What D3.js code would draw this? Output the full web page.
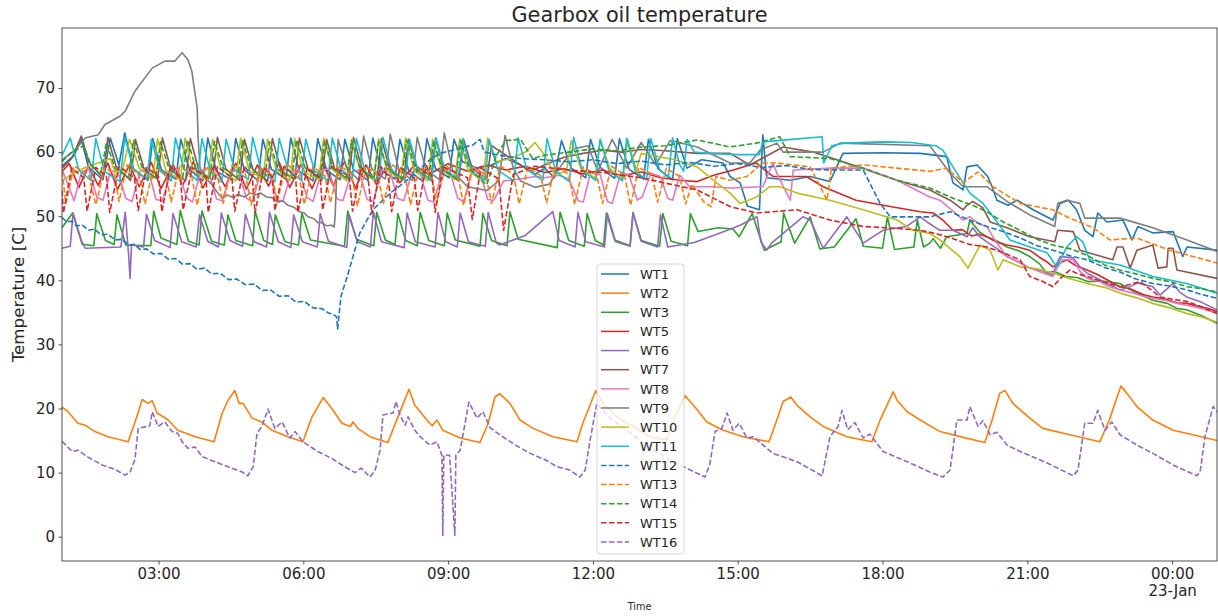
<!DOCTYPE html>
<html>
<head>
<meta charset="utf-8">
<script src="https://cdn.jsdelivr.net/npm/d3@7"></script>
<style>
  body { margin: 0; background: #fff; }
  svg { display: block; }
  text { font-family: "DejaVu Sans", sans-serif; fill: #262626; }
</style>
</head>
<body>
<svg id="chart" width="1218" height="616"></svg>
<script>
// Gearbox oil temperature of the wind turbines, one reading list per turbine.
// Each reading is [hours after 00:00 on 22 Jan, temperature in C]; hours above 24 fall on 23 Jan.

const turbineNames = ["WT1","WT2","WT3","WT5","WT6","WT7","WT8","WT9","WT10","WT11","WT12","WT13","WT14","WT15","WT16"];

const wt1 = [[1.00,57.8],[1.25,59.5],[1.40,62.0],[1.55,57.6],[1.85,55.7],[2.00,62.2],[2.18,58.0],[2.30,63.0],[2.48,57.4],[2.78,55.6],[2.88,62.1],[3.06,57.2],[3.36,55.8],[3.46,62.0],[3.64,57.3],[3.92,55.5],[4.02,62.2],[4.20,57.0],[4.50,55.7],[4.60,62.1],[4.78,57.2],[5.06,55.6],[5.16,62.0],[5.34,57.3],[5.64,55.8],[5.74,62.2],[5.92,57.0],[6.20,55.5],[6.30,62.1],[6.48,57.2],[6.76,55.7],[6.86,62.0],[7.04,57.3],[7.34,55.6],[7.44,62.2],[7.62,57.1],[7.90,55.8],[8.00,62.0],[8.18,57.2],[8.46,55.5],[8.56,62.1],[8.74,57.4],[9.02,56.0],[9.12,62.0],[9.30,58.5],[9.60,57.5],[9.90,58.0],[10.20,59.0],[10.50,58.0],[10.80,56.5],[11.00,57.5],[11.20,56.0],[11.35,61.8],[11.55,57.5],[11.85,56.0],[11.95,62.0],[12.15,57.6],[12.45,55.9],[12.55,62.1],[12.75,57.3],[13.05,55.8],[13.15,62.0],[13.35,57.4],[13.65,55.7],[13.75,62.1],[13.95,57.5],[14.25,58.8],[14.70,58.3],[14.84,56.2],[15.05,55.2],[15.20,51.6],[15.45,51.0],[15.52,62.7],[15.60,56.0],[16.09,55.6],[16.50,56.2],[16.91,55.4],[17.18,59.8],[18.00,59.9],[18.78,59.8],[19.33,59.3],[19.46,55.2],[19.67,54.1],[19.75,57.7],[19.96,58.0],[20.18,56.2],[20.27,54.6],[20.37,52.5],[20.60,51.7],[20.79,52.5],[21.12,51.0],[21.53,49.4],[21.68,52.0],[21.85,52.5],[22.02,51.0],[22.19,47.8],[22.36,46.8],[22.46,50.5],[22.65,49.1],[22.98,49.4],[23.17,46.3],[23.29,48.4],[23.60,47.4],[24.02,47.6],[24.22,43.7],[24.31,45.2],[24.93,44.7]];

const wt2 = [[1.00,20.2],[1.125,19.5],[1.33,17.7],[1.48,17.4],[1.68,16.4],[1.95,15.6],[2.37,14.8],[2.55,18.7],[2.66,21.4],[2.78,20.8],[2.87,21.2],[2.97,19.3],[3.20,18.2],[3.40,16.6],[3.76,15.6],[4.15,14.8],[4.32,19.3],[4.44,21.3],[4.58,22.8],[4.67,20.8],[4.75,20.8],[4.94,18.5],[5.14,17.9],[5.35,16.6],[5.68,15.6],[5.99,14.8],[6.18,18.7],[6.41,21.7],[6.59,20.0],[6.80,17.7],[6.97,17.2],[7.03,17.9],[7.13,16.9],[7.38,15.6],[7.75,14.7],[7.96,18.7],[8.19,23.0],[8.31,20.5],[8.56,18.2],[8.67,17.3],[8.77,18.2],[8.89,16.6],[9.25,15.4],[9.66,14.7],[9.83,17.7],[9.97,21.8],[10.07,22.3],[10.28,20.8],[10.49,18.2],[10.76,16.9],[11.17,15.6],[11.67,14.8],[11.79,17.7],[12.06,22.8],[12.21,20.8],[12.50,18.7],[12.83,17.2],[13.18,15.6],[13.53,15.1],[13.70,18.7],[13.91,22.0],[14.16,19.8],[14.36,17.9],[14.70,16.6],[15.11,15.6],[15.65,14.8],[15.81,18.2],[15.94,21.1],[16.10,21.8],[16.23,20.5],[16.50,18.7],[16.77,17.2],[17.26,15.6],[17.78,14.8],[17.95,18.2],[18.22,22.6],[18.30,21.3],[18.51,19.5],[18.78,18.2],[19.19,16.4],[19.67,15.5],[20.12,14.7],[20.27,18.2],[20.43,22.4],[20.54,22.8],[20.70,20.8],[21.05,18.5],[21.32,16.9],[21.88,15.9],[22.50,14.8],[22.70,18.2],[22.86,21.8],[22.94,23.5],[23.06,22.4],[23.27,20.3],[23.60,18.2],[24.02,16.6],[24.43,15.9],[24.93,15.0]];

const wt3 = [[1.00,48.2],[1.22,50.5],[1.42,45.6],[1.66,45.4],[1.72,50.4],[1.90,46.2],[2.08,45.6],[2.14,50.2],[2.32,45.5],[2.84,45.4],[2.90,50.8],[3.05,46.6],[3.38,45.6],[3.45,50.9],[3.62,46.1],[3.84,45.5],[3.90,50.8],[4.10,46.1],[4.36,45.5],[4.44,50.2],[4.60,46.2],[4.95,45.4],[5.00,50.8],[5.18,46.2],[5.36,45.6],[5.42,50.2],[5.62,46.0],[5.90,45.5],[5.97,50.5],[6.15,46.3],[6.85,45.3],[6.92,50.8],[7.10,46.4],[7.46,45.4],[7.52,50.6],[7.70,46.3],[7.90,45.6],[7.96,50.4],[8.12,46.2],[8.36,45.4],[8.42,50.6],[8.60,46.2],[8.92,45.4],[8.98,50.5],[9.15,46.3],[9.66,45.3],[9.72,50.4],[9.90,46.2],[10.22,45.4],[10.28,50.7],[10.45,46.4],[11.26,45.1],[11.32,50.6],[11.50,46.2],[11.82,45.3],[11.88,50.4],[12.05,46.2],[12.22,45.5],[12.28,50.5],[12.45,46.3],[12.77,45.4],[12.83,50.6],[13.00,46.2],[13.38,45.3],[13.45,50.4],[13.62,46.1],[13.96,45.4],[14.02,50.4],[14.18,47.6],[14.60,48.2],[14.90,48.0],[15.03,46.8],[15.30,50.4],[15.55,44.7],[15.90,46.0],[15.95,50.5],[16.18,45.8],[16.50,49.9],[16.70,44.9],[17.00,45.2],[17.45,49.6],[17.60,45.3],[18.00,45.0],[18.10,49.9],[18.25,44.8],[18.65,45.2],[18.72,49.4],[18.85,45.2],[18.98,45.8],[19.05,46.5],[19.20,45.0],[19.33,46.8],[19.75,47.3],[19.81,49.4],[20.00,47.6],[20.16,46.8],[20.38,46.1],[20.58,45.2],[20.82,44.6],[21.05,43.7],[21.25,42.6],[21.40,41.1],[21.55,41.4],[21.80,40.6],[22.05,40.4],[22.25,39.8],[22.55,39.9],[22.92,39.5],[23.20,38.3],[23.40,37.6],[23.60,36.9],[23.90,36.4],[24.10,35.6],[24.30,35.4],[24.60,34.5],[24.93,33.3]];

const wt5 = [[1.00,57.0],[1.15,58.2],[1.35,54.5],[1.55,57.8],[1.75,54.8],[1.95,58.3],[2.15,54.2],[2.40,58.0],[2.60,54.6],[2.85,58.4],[3.05,54.3],[3.30,58.1],[3.50,54.8],[3.72,58.5],[3.92,54.4],[4.15,57.9],[4.38,54.6],[4.60,58.3],[4.82,54.2],[5.05,58.0],[5.28,54.7],[5.50,58.4],[5.72,54.5],[5.95,58.1],[6.18,54.3],[6.40,58.2],[6.62,54.8],[6.85,58.5],[7.08,54.4],[7.30,58.0],[7.52,54.9],[7.75,58.3],[8.00,55.2],[8.30,58.0],[8.60,56.5],[9.00,58.2],[9.40,57.0],[9.80,58.0],[10.20,57.2],[10.60,57.8],[11.00,56.8],[11.40,57.4],[11.80,56.6],[12.20,57.2],[12.60,56.3],[13.00,56.9],[13.40,56.0],[13.80,55.6],[14.16,55.4],[14.50,56.4],[14.91,57.2],[15.38,58.3],[15.73,56.2],[16.42,56.2],[16.77,54.6],[17.45,52.5],[18.16,51.5],[18.78,50.7],[19.05,50.5],[19.25,49.4],[19.46,47.8],[19.65,47.9],[19.85,46.9],[20.00,47.2],[20.16,46.8],[20.35,46.0],[20.58,45.5],[20.80,45.2],[21.05,44.7],[21.25,43.6],[21.40,42.9],[21.53,42.1],[21.65,42.6],[21.82,43.2],[22.00,42.3],[22.24,41.6],[22.45,40.9],[22.70,39.9],[22.92,39.0],[23.15,38.6],[23.40,37.8],[23.60,37.4],[23.85,37.1],[24.10,36.5],[24.31,36.4],[24.55,35.9],[24.75,35.6],[24.93,35.1]];

const wt6 = [[1.00,45.0],[1.17,45.3],[1.23,50.5],[1.40,46.2],[1.48,45.0],[2.22,45.2],[2.31,50.6],[2.38,44.0],[2.41,40.3],[2.44,45.5],[2.69,45.2],[2.75,50.3],[2.92,46.2],[3.24,45.1],[3.30,50.4],[3.48,46.0],[3.78,45.2],[3.85,50.2],[4.02,46.1],[4.24,45.2],[4.30,50.5],[4.48,46.2],[4.74,45.3],[4.80,50.3],[4.98,46.0],[5.24,45.2],[5.30,50.6],[5.48,46.0],[5.74,45.1],[5.80,50.2],[5.98,46.0],[6.29,45.2],[6.35,50.4],[6.52,46.1],[6.90,45.1],[6.95,50.2],[7.12,46.0],[7.39,45.2],[7.45,50.7],[7.62,46.0],[8.09,45.1],[8.15,50.5],[8.32,46.0],[8.73,45.2],[8.79,50.6],[8.95,46.0],[9.19,45.2],[9.25,50.5],[9.42,46.0],[9.77,45.3],[9.83,50.6],[10.00,45.8],[10.07,45.5],[10.60,47.0],[11.17,50.7],[11.30,46.2],[11.63,45.2],[11.69,50.6],[11.85,46.0],[12.24,45.2],[12.30,50.4],[12.47,46.0],[12.77,45.3],[12.83,50.5],[13.00,46.1],[13.34,45.2],[13.40,50.2],[13.55,45.2],[14.10,45.9],[14.65,47.4],[15.05,48.6],[15.26,49.4],[15.40,49.9],[15.48,46.0],[15.60,44.7],[15.70,45.8],[16.35,49.9],[16.50,49.4],[16.77,45.0],[17.26,49.9],[17.60,45.8],[18.01,47.8],[18.50,48.4],[18.78,49.9],[18.92,49.1],[19.19,47.8],[19.46,47.8],[19.75,46.8],[19.87,48.2],[20.00,46.9],[20.16,46.0],[20.38,44.9],[20.58,43.7],[20.82,42.9],[21.05,41.9],[21.30,41.5],[21.53,40.8],[21.60,42.4],[21.68,43.7],[21.95,43.5],[22.10,42.0],[22.24,41.1],[22.55,39.9],[22.92,38.5],[23.10,38.9],[23.29,39.6],[23.60,39.0],[23.75,37.7],[24.02,39.5],[24.15,38.2],[24.30,37.4],[24.60,36.6],[24.93,35.4]];

const wt7 = [[1.00,57.5],[1.20,59.0],[1.40,62.5],[1.55,58.5],[1.85,56.0],[1.95,62.3],[2.12,57.8],[2.42,55.6],[2.52,62.0],[2.70,57.4],[2.98,55.8],[3.08,62.2],[3.26,57.2],[3.56,55.5],[3.66,62.1],[3.84,57.0],[4.12,55.7],[4.22,62.3],[4.40,57.3],[4.68,55.6],[4.78,62.0],[4.96,57.2],[5.26,55.5],[5.36,62.1],[5.54,57.0],[5.82,55.8],[5.92,62.2],[6.10,57.3],[6.38,55.6],[6.48,62.0],[6.66,57.1],[6.94,55.7],[7.04,62.3],[7.22,57.2],[7.52,55.5],[7.62,62.1],[7.80,57.0],[8.08,55.8],[8.18,62.0],[8.36,57.3],[8.64,55.6],[8.74,62.2],[8.92,57.1],[9.22,55.5],[9.32,62.0],[9.50,57.4],[9.80,55.8],[9.90,61.0],[10.30,59.0],[10.70,57.0],[11.00,58.0],[11.40,59.2],[11.80,59.8],[12.20,60.3],[12.60,60.0],[13.00,60.4],[13.50,60.2],[14.16,59.8],[14.84,59.8],[15.25,58.0],[15.50,59.0],[15.94,60.8],[16.56,60.0],[17.26,58.3],[18.30,55.6],[18.98,54.1],[19.40,52.5],[19.67,51.0],[19.75,51.7],[19.87,52.3],[20.08,51.3],[20.23,49.1],[20.58,48.2],[21.05,46.8],[21.57,46.0],[21.63,47.8],[21.95,47.6],[22.09,44.7],[22.77,43.2],[22.86,45.2],[22.98,45.2],[23.13,41.9],[23.27,44.7],[23.60,45.5],[23.71,41.9],[23.89,42.1],[23.92,45.0],[24.02,45.0],[24.10,41.6],[24.93,40.3]];

const wt8 = [[1.00,57.3],[1.12,55.0],[1.25,52.4],[1.40,56.8],[1.55,57.5],[1.72,53.0],[1.85,52.5],[2.00,56.9],[2.15,57.2],[2.32,52.8],[2.45,52.3],[2.62,57.0],[2.78,57.4],[2.95,52.6],[3.08,52.4],[3.25,56.8],[3.40,57.3],[3.58,52.9],[3.70,52.2],[3.88,57.1],[4.02,57.5],[4.20,52.7],[4.32,52.4],[4.50,56.9],[4.65,57.2],[4.82,52.8],[4.95,52.3],[5.12,57.0],[5.28,57.4],[5.45,52.5],[5.58,52.4],[5.75,56.8],[5.90,57.3],[6.08,52.9],[6.20,52.3],[6.38,57.1],[6.52,57.5],[6.70,52.7],[6.82,52.4],[7.00,56.9],[7.15,57.2],[7.32,52.6],[7.45,52.3],[7.62,57.0],[7.78,57.4],[7.95,52.8],[8.08,52.4],[8.25,56.8],[8.40,57.3],[8.58,52.5],[8.70,52.2],[8.88,57.1],[9.02,57.4],[9.20,52.8],[9.32,52.3],[9.50,56.9],[9.65,57.2],[9.82,52.6],[9.95,52.5],[10.15,55.5],[10.50,55.8],[10.80,56.2],[11.00,56.0],[11.30,56.4],[11.50,55.8],[11.70,52.4],[11.80,52.2],[11.95,56.8],[12.15,56.5],[12.30,52.3],[12.40,52.0],[12.58,56.9],[12.75,56.4],[12.92,52.5],[13.02,53.0],[13.20,56.7],[13.40,56.2],[13.55,52.8],[13.65,52.5],[13.80,56.4],[14.00,54.6],[14.50,54.6],[14.84,54.4],[15.52,54.6],[15.73,58.3],[15.85,56.0],[16.09,52.5],[16.15,57.2],[16.91,57.5],[17.60,57.5],[18.30,55.6],[18.98,53.0],[19.19,52.5],[19.40,51.2],[19.67,49.4],[19.81,49.9],[20.00,48.8],[20.16,48.4],[20.35,46.0],[20.58,43.7],[20.80,42.9],[21.05,41.9],[21.30,41.2],[21.53,40.6],[21.62,42.0],[21.74,43.2],[21.95,43.2],[22.08,41.5],[22.24,40.3],[22.50,39.8],[22.70,39.0],[22.92,38.5],[23.20,38.0],[23.40,37.5],[23.60,37.2],[23.90,36.8],[24.10,36.4],[24.31,36.1],[24.60,35.6],[24.93,34.9]];

const wt9 = [[1.00,58.8],[1.27,60.3],[1.48,62.2],[1.75,62.7],[1.89,64.3],[2.20,65.6],[2.31,66.4],[2.51,69.5],[2.87,73.1],[3.13,74.2],[3.34,74.2],[3.49,75.5],[3.61,74.4],[3.69,72.6],[3.80,66.9],[3.82,62.2],[3.86,57.5],[3.95,56.2],[4.05,55.4],[4.11,54.9],[4.20,53.9],[4.32,52.8],[4.42,53.3],[4.55,52.9],[4.65,53.4],[4.78,53.0],[4.90,53.6],[5.00,53.3],[5.12,53.6],[5.24,53.0],[5.35,52.9],[5.47,52.2],[5.58,52.4],[5.68,51.7],[5.80,51.4],[5.92,50.7],[6.02,50.5],[6.10,49.9],[6.22,49.6],[6.30,49.0],[6.39,49.0],[6.48,48.5],[6.59,48.6],[6.64,48.3],[6.66,50.2],[6.72,62.0],[6.90,57.5],[7.15,55.6],[7.25,62.5],[7.42,57.4],[7.70,55.8],[7.80,62.8],[7.98,57.2],[8.26,55.6],[8.36,62.3],[8.54,57.3],[8.82,55.7],[8.92,63.0],[9.10,57.0],[9.40,54.6],[9.80,54.0],[10.05,55.5],[10.18,62.6],[10.35,57.5],[10.50,55.5],[10.80,54.5],[11.10,55.0],[11.35,58.0],[11.60,60.5],[11.90,61.0],[12.10,57.0],[12.40,62.0],[12.70,57.5],[13.00,61.5],[13.30,58.0],[13.60,61.8],[14.16,60.8],[14.84,58.3],[15.25,58.3],[15.46,60.3],[15.81,61.4],[15.94,60.0],[16.77,60.0],[17.12,61.4],[18.98,61.0],[19.40,56.7],[19.67,54.6],[20.16,54.6],[20.58,52.3],[21.05,50.2],[21.57,48.4],[21.63,52.0],[21.82,52.5],[22.09,52.0],[22.19,49.7],[22.92,49.7],[23.60,48.2],[24.31,46.3],[24.93,44.5]];

const wt10 = [[1.00,55.5],[1.20,56.5],[1.45,57.5],[1.75,58.3],[2.00,59.0],[2.10,56.8],[2.25,57.0],[2.40,62.0],[2.60,57.5],[2.88,55.8],[2.98,62.1],[3.15,57.2],[3.45,55.6],[3.55,62.2],[3.72,57.0],[4.02,55.7],[4.12,62.0],[4.30,57.3],[4.60,55.5],[4.70,62.2],[4.88,57.1],[5.16,55.8],[5.26,62.0],[5.44,57.2],[5.72,55.6],[5.82,62.1],[6.00,57.0],[6.32,55.7],[6.42,62.2],[6.60,57.3],[6.90,55.5],[7.00,62.0],[7.18,57.2],[7.46,55.6],[7.56,62.1],[7.74,57.0],[8.02,55.8],[8.12,62.2],[8.30,57.1],[8.58,55.5],[8.68,62.0],[8.86,57.3],[9.14,55.7],[9.24,62.1],[9.42,57.0],[9.72,55.6],[9.82,62.2],[10.00,58.5],[10.30,59.0],[10.60,60.0],[10.80,61.5],[11.00,59.5],[11.20,56.5],[11.45,57.0],[11.55,61.8],[11.75,57.5],[12.05,55.9],[12.15,62.0],[12.35,57.4],[12.62,55.8],[12.72,61.9],[12.90,57.2],[13.00,59.8],[13.70,58.8],[14.16,57.7],[14.50,55.6],[14.84,53.6],[15.05,52.0],[15.39,53.0],[15.66,54.6],[15.87,54.6],[16.23,53.6],[16.91,52.5],[17.60,51.0],[18.30,49.4],[18.63,47.8],[18.98,47.3],[19.19,46.3],[19.60,43.7],[19.77,41.9],[20.02,45.5],[20.23,44.7],[20.39,41.6],[20.50,43.2],[20.85,42.1],[21.20,41.8],[21.53,41.1],[21.90,40.2],[22.24,39.5],[22.60,38.9],[22.92,38.0],[23.25,37.3],[23.60,36.4],[23.95,35.7],[24.31,34.8],[24.60,34.3],[24.93,33.5]];

const wt11 = [[1.00,59.5],[1.17,62.2],[1.35,57.2],[1.60,55.6],[1.70,62.1],[1.88,57.0],[2.20,55.4],[2.30,62.3],[2.48,57.4],[2.76,55.8],[2.85,62.0],[3.03,57.1],[3.26,55.5],[3.35,62.2],[3.53,57.3],[3.80,55.6],[3.90,62.1],[4.08,56.9],[4.31,55.3],[4.40,62.0],[4.58,57.2],[4.86,55.7],[4.95,62.3],[5.13,57.0],[5.41,55.4],[5.50,62.1],[5.68,57.3],[5.96,55.6],[6.05,62.0],[6.23,57.1],[6.51,55.5],[6.60,62.2],[6.78,57.4],[7.01,55.7],[7.10,62.1],[7.28,57.0],[7.56,55.4],[7.65,62.3],[7.83,57.2],[8.11,55.6],[8.20,62.0],[8.38,57.1],[8.66,55.5],[8.75,62.2],[8.93,57.3],[9.21,55.8],[9.30,62.1],[9.48,57.0],[9.76,55.6],[9.85,62.0],[10.03,57.2],[10.36,55.5],[10.45,62.2],[10.63,57.3],[10.96,55.6],[11.05,62.1],[11.23,57.0],[11.51,55.4],[11.60,62.3],[11.78,57.1],[12.06,55.6],[12.15,62.0],[12.33,57.2],[12.61,55.5],[12.70,62.2],[12.88,57.0],[13.11,55.7],[13.20,62.1],[13.38,57.3],[13.56,56.0],[13.65,62.2],[13.80,58.0],[13.88,57.0],[13.95,62.0],[14.10,60.0],[14.40,59.8],[15.00,59.6],[15.45,59.6],[15.52,61.6],[16.00,61.9],[16.75,62.4],[16.78,58.3],[16.95,61.0],[17.20,61.4],[18.00,61.6],[18.60,61.5],[19.10,61.0],[19.25,60.3],[19.46,57.7],[19.67,55.2],[19.81,53.6],[20.08,52.0],[20.29,49.9],[20.50,47.8],[20.64,46.3],[21.05,45.2],[21.41,44.3],[21.61,42.1],[21.82,45.2],[22.02,46.8],[22.15,46.0],[22.29,43.2],[22.92,42.4],[23.60,40.6],[24.30,39.5],[24.93,38.0]];

const wt12 = [[1.00,49.8],[1.10,49.1],[1.20,49.2],[1.30,48.5],[1.42,48.6],[1.55,47.8],[1.68,48.0],[1.80,47.1],[1.95,47.2],[2.10,46.3],[2.24,46.4],[2.38,45.5],[2.50,45.6],[2.62,44.8],[2.75,44.9],[2.90,44.1],[3.05,44.2],[3.20,43.3],[3.35,43.4],[3.50,42.5],[3.65,42.6],[3.80,41.7],[3.95,41.9],[4.10,41.0],[4.28,41.1],[4.45,40.1],[4.62,40.2],[4.80,39.3],[4.98,39.4],[5.15,38.4],[5.32,38.5],[5.50,37.5],[5.68,37.6],[5.85,36.6],[6.02,36.7],[6.20,35.7],[6.38,35.6],[6.52,34.9],[6.62,34.7],[6.69,34.3],[6.71,32.4],[6.78,37.5],[6.91,40.6],[7.17,47.4],[7.44,51.0],[7.80,53.6],[8.15,55.6],[8.62,58.8],[8.83,59.8],[9.20,60.5],[9.51,61.1],[9.66,62.0],[9.75,60.0],[10.00,59.6],[10.50,59.0],[11.00,58.8],[11.50,58.5],[12.00,58.8],[12.50,58.2],[13.00,58.6],[13.50,58.0],[14.00,58.4],[14.50,57.8],[15.00,58.2],[15.50,57.6],[16.00,57.9],[16.50,57.3],[17.05,57.2],[17.60,57.2],[17.74,55.1],[17.95,52.0],[18.16,49.9],[18.98,49.9],[19.40,50.7],[19.80,49.4],[20.16,48.4],[20.50,47.6],[20.85,46.6],[21.20,45.4],[21.53,44.7],[21.90,43.8],[22.24,43.2],[22.60,42.0],[22.92,41.3],[23.25,40.2],[23.60,39.5],[23.95,39.1],[24.31,38.5],[24.60,37.8],[24.93,37.2]];

const wt13 = [[1.00,57.0],[1.08,52.0],[1.25,57.8],[1.55,56.5],[1.70,51.8],[1.88,57.5],[2.08,56.8],[2.18,52.3],[2.35,58.0],[2.60,56.4],[2.72,51.9],[2.90,57.6],[3.15,56.6],[3.26,52.2],[3.45,58.1],[3.68,56.5],[3.80,51.7],[3.98,57.8],[4.22,56.3],[4.34,52.0],[4.52,57.9],[4.80,56.6],[4.92,51.8],[5.10,57.6],[5.35,56.4],[5.46,52.3],[5.65,58.2],[5.90,56.5],[6.02,51.9],[6.20,57.7],[6.45,56.3],[6.56,52.1],[6.75,57.9],[7.00,56.6],[7.12,51.6],[7.30,57.8],[7.55,56.2],[7.66,52.0],[7.85,58.0],[8.10,56.5],[8.22,51.8],[8.40,57.6],[8.65,56.7],[8.76,52.2],[8.95,57.9],[9.20,56.4],[9.32,51.7],[9.50,57.7],[9.78,56.5],[9.90,52.0],[10.08,57.8],[10.35,56.6],[10.47,51.9],[10.65,57.6],[10.92,56.3],[11.04,52.1],[11.22,57.9],[11.50,56.5],[11.62,51.8],[11.80,57.7],[12.08,56.4],[12.20,52.0],[12.38,57.8],[12.65,56.5],[12.78,51.7],[12.95,57.6],[13.22,56.6],[13.34,52.2],[13.52,57.5],[13.80,56.2],[13.92,51.9],[14.05,55.0],[14.30,52.2],[14.45,51.5],[14.55,56.2],[14.84,55.6],[15.19,56.2],[15.52,58.3],[15.81,58.3],[16.50,57.7],[16.85,52.5],[16.94,57.5],[17.60,58.0],[18.98,57.0],[19.33,57.5],[19.67,55.2],[19.98,56.9],[20.29,54.6],[20.85,52.0],[21.53,51.0],[21.88,49.7],[22.36,48.2],[22.71,46.3],[23.27,46.6],[23.95,44.7],[24.93,42.7]];

const wt14 = [[1.00,58.5],[1.20,60.0],[1.45,61.0],[1.60,58.0],[1.80,56.5],[1.92,61.5],[2.10,57.5],[2.38,56.0],[2.48,61.8],[2.66,57.6],[2.94,55.9],[3.04,61.6],[3.22,57.4],[3.50,56.0],[3.60,61.9],[3.78,57.3],[4.06,55.8],[4.16,61.7],[4.34,57.5],[4.64,56.0],[4.74,61.8],[4.92,57.4],[5.20,55.9],[5.30,61.6],[5.48,57.3],[5.76,56.0],[5.86,61.9],[6.04,57.5],[6.34,55.8],[6.44,61.7],[6.62,57.4],[6.90,56.0],[7.00,61.8],[7.18,57.3],[7.46,55.9],[7.56,61.6],[7.74,57.5],[8.04,55.8],[8.14,61.9],[8.32,57.4],[8.60,56.0],[8.70,61.7],[8.88,57.3],[9.16,55.9],[9.26,61.8],[9.44,57.5],[9.70,55.5],[9.80,54.9],[10.00,59.5],[10.20,61.8],[10.50,62.0],[10.75,59.0],[11.00,59.5],[11.50,60.0],[12.00,60.5],[12.50,60.2],[13.00,60.8],[13.50,61.0],[14.16,61.9],[14.84,60.8],[15.39,61.4],[15.87,62.4],[16.09,59.3],[16.91,59.0],[17.60,57.5],[18.30,55.6],[18.98,54.4],[19.46,52.8],[19.80,51.9],[20.16,50.7],[20.50,49.1],[20.85,47.8],[21.20,46.4],[21.53,45.5],[21.90,44.9],[22.24,43.9],[22.60,42.4],[22.92,41.6],[23.25,41.0],[23.60,40.3],[23.95,39.8],[24.31,39.0],[24.60,38.7],[24.93,38.2]];

const wt15 = [[1.00,54.0],[1.03,50.5],[1.20,57.5],[1.45,56.0],[1.52,50.8],[1.70,57.6],[1.92,56.2],[1.99,50.6],[2.18,57.8],[2.50,56.0],[2.58,50.9],[2.75,57.6],[3.00,56.2],[3.07,50.7],[3.25,57.9],[3.45,56.0],[3.51,51.0],[3.70,57.6],[3.98,56.1],[4.03,50.6],[4.22,57.7],[4.52,56.0],[4.58,50.8],[4.78,57.8],[4.94,56.2],[5.00,50.5],[5.18,57.6],[5.36,56.0],[5.41,50.9],[5.60,57.8],[5.84,56.1],[5.89,50.6],[6.08,57.6],[6.35,56.0],[6.40,51.0],[6.58,57.8],[6.95,56.2],[7.02,50.8],[7.20,57.7],[7.34,56.0],[7.42,50.4],[7.60,57.8],[7.76,56.2],[7.83,50.7],[8.00,57.6],[8.30,56.0],[8.37,50.9],[8.55,57.9],[8.67,56.1],[8.73,50.6],[8.90,57.7],[9.40,56.0],[9.50,49.5],[9.68,57.5],[10.05,55.8],[10.15,47.8],[10.35,56.5],[10.80,57.8],[11.50,57.2],[12.20,56.8],[13.00,56.0],[13.60,55.0],[14.16,54.1],[14.84,51.5],[15.39,50.5],[16.23,51.0],[16.91,49.4],[17.60,48.4],[18.30,48.1],[18.78,47.8],[19.10,47.3],[19.46,46.5],[19.80,45.6],[20.16,45.2],[20.50,44.3],[20.85,43.2],[21.05,40.6],[21.30,39.9],[21.53,39.0],[21.70,40.4],[21.88,41.6],[22.05,41.0],[22.24,40.6],[22.55,39.8],[22.92,39.0],[23.10,39.3],[23.33,39.8],[23.55,38.6],[23.75,37.4],[24.05,37.0],[24.31,36.7],[24.60,35.9],[24.93,34.8]];

const wt16 = [[1.00,14.9],[1.21,13.3],[1.33,13.5],[1.54,12.4],[1.83,11.2],[2.10,10.5],[2.31,9.6],[2.41,10.1],[2.51,12.0],[2.58,16.9],[2.82,17.3],[2.87,19.5],[2.99,17.2],[3.13,17.9],[3.28,16.4],[3.40,16.1],[3.49,14.8],[3.61,13.8],[3.76,14.0],[3.90,12.5],[4.17,11.7],[4.44,10.9],[4.73,10.1],[4.85,9.5],[4.96,10.9],[5.04,16.1],[5.14,17.2],[5.27,19.9],[5.41,16.9],[5.56,17.9],[5.72,15.4],[5.83,16.4],[5.99,14.8],[6.30,13.3],[6.59,12.2],[6.86,10.9],[7.07,10.0],[7.20,10.7],[7.38,9.3],[7.49,10.4],[7.59,13.5],[7.65,19.0],[7.86,19.3],[7.92,21.1],[8.00,19.0],[8.11,17.4],[8.17,18.7],[8.31,16.6],[8.42,15.6],[8.62,14.3],[8.77,14.8],[8.87,12.7],[8.89,0.2],[8.91,12.7],[9.03,12.7],[9.14,0.2],[9.16,12.7],[9.25,13.5],[9.43,21.0],[9.60,18.5],[9.72,19.5],[9.87,17.0],[10.07,15.9],[10.39,14.3],[10.70,13.0],[11.01,12.0],[11.26,10.9],[11.52,10.4],[11.73,9.3],[11.84,10.4],[11.94,15.0],[12.08,20.8],[12.35,18.5],[12.77,16.2],[13.18,13.8],[13.60,12.0],[13.91,10.8],[14.32,9.3],[14.42,11.2],[14.53,16.4],[14.67,16.9],[14.78,19.3],[14.90,16.6],[15.03,17.7],[15.19,15.4],[15.32,15.6],[15.73,13.0],[16.23,11.7],[16.75,9.5],[16.91,15.6],[17.08,17.2],[17.16,19.7],[17.28,16.7],[17.43,17.8],[17.60,15.4],[17.74,16.0],[18.01,13.3],[18.51,11.7],[18.98,10.1],[19.25,9.3],[19.40,10.4],[19.54,18.2],[19.75,18.2],[19.81,20.3],[19.98,17.2],[20.08,18.1],[20.23,15.9],[20.37,16.3],[20.58,14.3],[20.85,13.3],[21.41,11.5],[21.95,9.5],[22.05,10.4],[22.19,17.7],[22.36,17.7],[22.46,19.7],[22.61,16.6],[22.75,17.9],[22.92,15.9],[23.27,14.3],[23.60,13.0],[24.02,11.2],[24.51,9.5],[24.58,10.1],[24.68,15.6],[24.85,20.3],[24.93,19.5]];

const turbineReadings = [wt1, wt2, wt3, wt5, wt6, wt7, wt8, wt9, wt10, wt11, wt12, wt13, wt14, wt15, wt16];

const yTickValues = [0, 10, 20, 30, 40, 50, 60, 70];
const xTickHours = [3, 6, 9, 12, 15, 18, 21, 24];
const xTickLabels = ["03:00", "06:00", "09:00", "12:00", "15:00", "18:00", "21:00", "00:00"];
const xTickDateLabels = ["", "", "", "", "", "", "", "23-Jan"];

// Styling: ten-colour cycle, the five last turbines repeat it dashed.
const palette = ["#1f77b4","#ff7f0e","#2ca02c","#d62728","#9467bd","#8c564b","#e377c2","#7f7f7f","#bcbd22","#17becf"];
const lineColour = i => palette[i % 10];
const lineDashed = i => i >= 10;

const margin = { left: 62, right: 1217, top: 28, bottom: 561 };

const day0 = Date.UTC(2019, 0, 22);
const toDate = h => new Date(day0 + h * 3600e3);

const x = d3.scaleUtc().domain([toDate(1.0), toDate(24.93)]).range([margin.left, margin.right]);
const y = d3.scaleLinear().domain([-3.79, 79.36]).range([margin.bottom, margin.top]);

const svg = d3.select("#chart");

svg.append("defs").append("clipPath").attr("id", "plotClip")
  .append("rect").attr("x", margin.left).attr("y", margin.top)
  .attr("width", margin.right - margin.left).attr("height", margin.bottom - margin.top);

const line = d3.line().x(d => x(toDate(d[0]))).y(d => y(d[1]));

const plot = svg.append("g").attr("clip-path", "url(#plotClip)");
turbineReadings.forEach((readings, i) => {
  plot.append("path")
    .datum(readings)
    .attr("d", line)
    .attr("fill", "none")
    .attr("stroke", lineColour(i))
    .attr("stroke-width", 1.6)
    .attr("stroke-linejoin", "round")
    .attr("stroke-dasharray", lineDashed(i) ? "5.55,2.4" : null);
});

// Axes
const xAxis = d3.axisBottom(x)
  .tickValues(xTickHours.map(toDate))
  .tickSize(3.5).tickPadding(3.5)
  .tickFormat((d, i) => xTickLabels[i]);
const gx = svg.append("g").attr("transform", `translate(0,${margin.bottom})`).call(xAxis);
gx.select(".domain").remove();
gx.selectAll(".tick line").attr("stroke", "#262626").attr("stroke-width", 0.8);
gx.selectAll(".tick text").attr("font-size", 15).attr("fill", "#262626")
  .each(function (d, i) {
    if (xTickDateLabels[i]) {
      d3.select(this).append("tspan").attr("x", 0).attr("dy", "1.15em").text(xTickDateLabels[i]);
    }
  });

const yAxis = d3.axisLeft(y).tickValues(yTickValues).tickSize(3.5).tickPadding(3.5);
const gy = svg.append("g").attr("transform", `translate(${margin.left},0)`).call(yAxis);
gy.select(".domain").remove();
gy.selectAll(".tick line").attr("stroke", "#262626").attr("stroke-width", 0.8);
gy.selectAll(".tick text").attr("font-size", 15).attr("fill", "#262626");

// Frame around the plotting area
svg.append("rect")
  .attr("x", margin.left).attr("y", margin.top)
  .attr("width", margin.right - margin.left).attr("height", margin.bottom - margin.top)
  .attr("fill", "none").attr("stroke", "#262626").attr("stroke-width", 0.8);

// Titles
svg.append("text").attr("x", (margin.left + margin.right) / 2).attr("y", 22)
  .attr("text-anchor", "middle").attr("font-size", 20.8).text("Gearbox oil temperature");
svg.append("text").attr("transform", `translate(24,${(margin.top + margin.bottom) / 2}) rotate(-90)`)
  .attr("text-anchor", "middle").attr("font-size", 16.7).text("Temperature [C]");
svg.append("text").attr("x", (margin.left + margin.right) / 2).attr("y", 610)
  .attr("text-anchor", "middle").attr("font-size", 9.7).text("Time");

// Legend
const lg = { x: 597, y: 264, w: 87, h: 290, row: 19.14 };
const legend = svg.append("g");
legend.append("rect").attr("x", lg.x).attr("y", lg.y).attr("width", lg.w).attr("height", lg.h)
  .attr("rx", 3).attr("fill", "#fff").attr("fill-opacity", 0.8)
  .attr("stroke", "#cccccc").attr("stroke-width", 0.8);
turbineNames.forEach((name, i) => {
  const cy = lg.y + 10 + i * lg.row;
  legend.append("line").attr("x1", lg.x + 4).attr("x2", lg.x + 32).attr("y1", cy).attr("y2", cy)
    .attr("stroke", lineColour(i)).attr("stroke-width", 1.5)
    .attr("stroke-dasharray", lineDashed(i) ? "5.55,2.4" : null);
  legend.append("text").attr("x", lg.x + 43).attr("y", cy).attr("dy", "0.36em")
    .attr("font-size", 13).text(name);
});
</script>
</body>
</html>
